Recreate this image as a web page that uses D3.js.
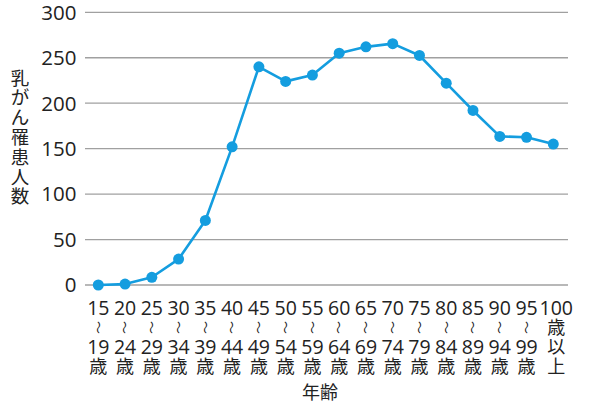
<!DOCTYPE html>
<html><head><meta charset="utf-8">
<script src="https://cdn.jsdelivr.net/npm/d3@7"></script>
<style>
html,body{margin:0;padding:0;background:#fff;}
svg text{font-family:"Open Sans","Noto Sans CJK JP",sans-serif;fill:#222;}
</style></head>
<body>
<svg id="c" width="595" height="405"></svg>
<script>
const ageStart = ["15","20","25","30","35","40","45","50","55","60","65","70","75","80","85","90","95","100"];
const ageEnd = ["19","24","29","34","39","44","49","54","59","64","69","74","79","84","89","94","99",""];
const values = [0, 1, 8.5, 28.5, 71, 152, 240, 224, 231, 255, 262, 265.5, 252.5, 222, 192, 163.5, 162.5, 155];
const yTicks = [0, 50, 100, 150, 200, 250, 300];
const yTitle = "乳がん罹患人数";
const xTitle = "年齢";

const svg = d3.select("#c");
const x = d3.scalePoint().domain(d3.range(ageStart.length)).range([98.3, 553.3]);
const y = d3.scaleLinear().domain([0, 300]).range([285, 12.3]);

// grid
svg.append("g").selectAll("line").data(yTicks).join("line")
  .attr("x1", 85).attr("x2", 568)
  .attr("y1", d => y(d)).attr("y2", d => y(d))
  .attr("stroke", "#a0a0a0").attr("stroke-width", 1.3);

// y tick labels
svg.append("g").selectAll("text").data(yTicks).join("text")
  .attr("x", 76.5).attr("y", d => y(d)).attr("dy", "0.36em")
  .attr("text-anchor", "end").attr("font-size", 20.5)
  .text(d => d);

// y title vertical stacked
svg.append("g").selectAll("text").data(Array.from(yTitle)).join("text")
  .attr("x", 20).attr("y", (d, i) => 78 + i * 19.8).attr("dy", "0.36em")
  .attr("text-anchor", "middle").attr("font-size", 18.5)
  .text(d => d);

// x labels
const xl = svg.append("g");
ageStart.forEach((s, i) => {
  const cx = x(i);
  const g = xl.append("g");
  g.append("text").attr("x", i === ageStart.length - 1 ? cx + 3 : cx).attr("y", 308).attr("dy", "0.36em")
    .attr("text-anchor", "middle").attr("font-size", 19.5).text(s);
  if (ageEnd[i] !== "") {
    g.append("text").attr("transform", `translate(${cx},327.5) rotate(90)`)
      .attr("dy", "0.36em").attr("text-anchor", "middle").attr("font-size", 13).text("～");
    g.append("text").attr("x", cx).attr("y", 346.5).attr("dy", "0.36em")
      .attr("text-anchor", "middle").attr("font-size", 19.5).text(ageEnd[i]);
    g.append("text").attr("x", cx).attr("y", 366.5).attr("dy", "0.36em")
      .attr("text-anchor", "middle").attr("font-size", 18).text("歳");
  } else {
    ["歳","以","上"].forEach((c, k) => {
      g.append("text").attr("x", cx + 3).attr("y", 327.5 + k * 19.5).attr("dy", "0.36em")
        .attr("text-anchor", "middle").attr("font-size", 18).text(c);
    });
  }
});

// x title
svg.append("text").attr("x", 320).attr("y", 393).attr("dy", "0.36em")
  .attr("text-anchor", "middle").attr("font-size", 18).text(xTitle);

// line
const line = d3.line().x((d, i) => x(i)).y(d => y(d));
svg.append("path").datum(values).attr("d", line)
  .attr("fill", "none").attr("stroke", "#149ddf").attr("stroke-width", 2.6)
  .attr("stroke-linejoin", "round");
svg.append("g").selectAll("circle").data(values).join("circle")
  .attr("cx", (d, i) => x(i)).attr("cy", d => y(d)).attr("r", 5.5)
  .attr("fill", "#149ddf");
</script>
</body></html>
